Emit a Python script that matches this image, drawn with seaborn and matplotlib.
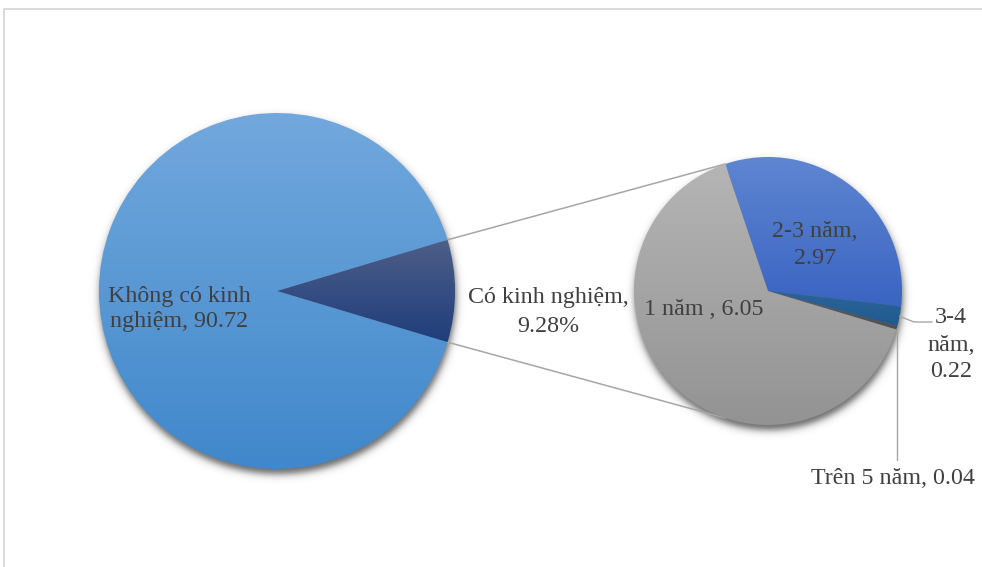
import numpy as np
import matplotlib
matplotlib.use("Agg")
import matplotlib.pyplot as plt
import seaborn as sns

# Main pie: share of workers with / without work experience (%)
main_labels = ["Có kinh nghiệm", "Không có kinh nghiệm"]
main_values = [9.28, 90.72]

# Breakdown of the experienced group by length of experience (%)
sub_labels = ["2-3 năm", "3-4 năm", "Trên 5 năm", "1 năm"]
sub_values = [2.97, 0.22, 0.04, 6.05]

# Gradient fills (top colour, bottom colour) for each slice
main_grad = [("#4E5E88", "#1F3E7C"), ("#72A8DD", "#4088CB")]
sub_grad = [("#5F86D1", "#3A64C2"), ("#2C6499", "#1F5A8F"),
            ("#5E5E5E", "#505050"), ("#B5B5B5", "#939393")]

W, H = 982, 567
MAIN_C, MAIN_R = (277, 291), 178
SUB_C, SUB_R = (768, 291), 134
SUB_START = 108.6
TEXT_C = "#404040"
LINE_C = "#A6A6A6"
FS = 17.3

sns.set_theme(style="white")
plt.rcParams["font.family"] = ["Liberation Serif", "DejaVu Serif"]

fig = plt.figure(figsize=(W / 100, H / 100), dpi=100)
ax = fig.add_axes([0, 0, 1, 1])
ax.axis("off")


def py(y):
    """pixel row -> data y"""
    return H - y


def edge_point(center, r, ang):
    a = np.deg2rad(ang)
    return center[0] + r * np.cos(a), py(center[1]) + r * np.sin(a)


# soft drop shadow under both pies
X, Y = np.meshgrid(np.arange(W) + 0.5, np.arange(H) + 0.5)
alpha = np.zeros((H, W))
for (cx, cy), r in [(MAIN_C, MAIN_R), (SUB_C, SUB_R)]:
    d = np.hypot(X - cx - 1, Y - cy - 5)
    alpha = np.maximum(alpha, 0.5 * 0.6 * (1 - np.tanh((d - r) / 4.5)))
shadow = np.zeros((H, W, 4))
shadow[..., 3] = alpha
ax.imshow(shadow, extent=[0, W, 0, H], origin="upper", zorder=0,
          interpolation="bilinear", aspect="auto")


def draw_pie(values, center, r, start, ccw, grads):
    wedges, _ = ax.pie(values, center=(center[0], py(center[1])), radius=r,
                       startangle=start, counterclock=ccw,
                       wedgeprops=dict(linewidth=0, facecolor="none"))
    for w, (top, bot) in zip(wedges, grads):
        w.set_zorder(2)
        ext = w.get_path().get_extents()
        cols = np.array(sns.blend_palette([top, bot], 256))
        img = cols[:, None, :3].repeat(2, axis=1)
        im = ax.imshow(img, extent=[ext.x0, ext.x1, ext.y0, ext.y1],
                       origin="upper", aspect="auto", zorder=2,
                       interpolation="bilinear")
        im.set_clip_path(w)
    return wedges


main_start = -main_values[0] / sum(main_values) * 180
mw = draw_pie(main_values, MAIN_C, MAIN_R, main_start, True, main_grad)
sw = draw_pie(sub_values, SUB_C, SUB_R, SUB_START, False, sub_grad)

# connector lines between the pies
exp_w = mw[0]
p_top = edge_point(MAIN_C, MAIN_R, exp_w.theta2)
p_bot = edge_point(MAIN_C, MAIN_R, exp_w.theta1)
q_top = edge_point(SUB_C, SUB_R, SUB_START)
q_bot = edge_point(SUB_C, SUB_R, -SUB_START)
ax.plot([p_top[0], q_top[0]], [p_top[1], q_top[1]], color=LINE_C, lw=1.1, zorder=1)
ax.plot([p_bot[0], q_bot[0]], [p_bot[1], q_bot[1]], color=LINE_C, lw=1.1, zorder=1)

# leader lines for the two thin slices
w34, w5 = sw[1], sw[2]
a34 = (w34.theta1 + w34.theta2) / 2
e34 = edge_point(SUB_C, SUB_R, a34)
ax.plot([e34[0], 914, 932], [e34[1], py(322), py(322)], color=LINE_C, lw=1.0, zorder=3)
a5 = (w5.theta1 + w5.theta2) / 2
e5 = edge_point(SUB_C, SUB_R, a5)
ax.plot([e5[0], e5[0]], [e5[1], py(460)], color=LINE_C, lw=1.0, zorder=3)


def label(lines, x, baselines):
    for s, b in zip(lines, baselines):
        ax.text(x, py(b), s, ha="center", va="baseline", fontsize=FS,
                color=TEXT_C, zorder=5)


label(["Không có kinh", f"nghiệm, {main_values[1]:.2f}"], 179, [302, 327])
label(["Có kinh nghiệm,", f"{main_values[0]:.2f}%"], 548, [303, 332])
label([f"{sub_labels[3]} , {sub_values[3]:.2f}"], 704, [315])
label([f"{sub_labels[0]},", f"{sub_values[0]:.2f}"], 815, [237, 264])
label(["3-4", "năm,", f"{sub_values[1]:.2f}"], 951, [323, 351, 377])
label([f"{sub_labels[2]}, {sub_values[2]:.2f}"], 893, [484])

# chart area frame
ax.plot([4.5, 4.5, W + 5], [-5, py(8.5), py(8.5)], color="#D9D9D9", lw=1.4,
        zorder=6, solid_capstyle="butt")

ax.set_xlim(0, W)
ax.set_ylim(0, H)
ax.set_aspect("auto")
ax.axis("off")
fig.savefig("out.png", dpi=100)
